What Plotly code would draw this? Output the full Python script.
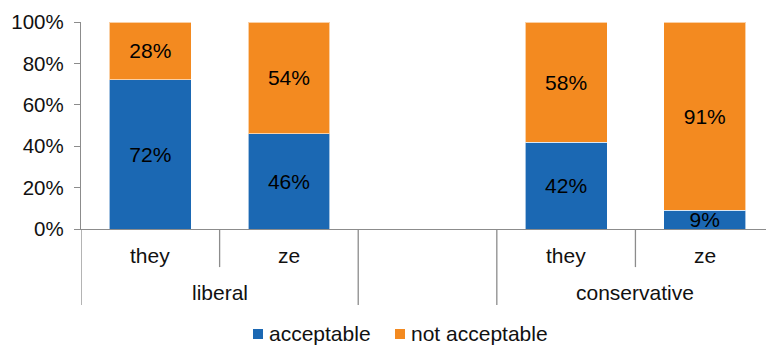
import plotly.graph_objects as go

# Pronoun acceptability by political leaning (100% stacked)
pronouns = ["they", "ze", "", "they", "ze"]
groups = ["liberal", "conservative"]
acceptable = [72, 46, None, 42, 9]
not_acceptable = [28, 54, None, 58, 91]
series_names = ["acceptable", "not acceptable"]

BLUE = "#1B68B3"
ORANGE = "#F38A20"
AXIS = "#8C8C8C"
FONT = "Liberation Sans, Arial, sans-serif"
FS = 21
TICK_FS = 20.5

L, T, W, H = 81, 22, 766, 345
PW, PH = W - L, 207


def px_x(p):
    return (p - L) / PW


def px_y(p):
    return (T + PH - p) / PH


x = list(range(len(pronouns)))

fig = go.Figure()
for name, vals, color in [(series_names[0], acceptable, BLUE),
                          (series_names[1], not_acceptable, ORANGE)]:
    fig.add_trace(go.Bar(
        x=x, y=vals, name=name, width=0.59, showlegend=False,
        marker=dict(color=color, line=dict(color="rgba(255,255,255,0.6)", width=1)),
        texttemplate="%{y}%", textposition="inside", insidetextanchor="middle",
        textfont=dict(color="black", size=FS, family=FONT),
        constraintext="none",
    ))

shapes = []
# y-axis line continued down through both label rows
shapes.append(dict(type="line", xref="x", yref="paper", x0=-0.5, x1=-0.5,
                   y0=0, y1=-0.367, line=dict(color=AXIS, width=1.3)))
# dividers between pronoun labels and between groups
for xv, depth in [(0.5, -0.184), (1.5, -0.367), (2.5, -0.367), (3.5, -0.184)]:
    shapes.append(dict(type="line", xref="x", yref="paper", x0=xv, x1=xv,
                       y0=0, y1=depth, line=dict(color=AXIS, width=1.3)))

annotations = []
for xi, p in zip(x, pronouns):
    if p:
        annotations.append(dict(x=xi, y=-0.126, xref="x", yref="paper", text=p,
                                showarrow=False, yanchor="middle",
                                font=dict(size=FS, color="#111", family=FONT)))
for xc, g in zip([0.5, 3.5], groups):
    annotations.append(dict(x=xc, y=-0.309, xref="x", yref="paper", text=g,
                            showarrow=False, yanchor="middle",
                            font=dict(size=FS, color="#111", family=FONT)))

# legend row: colour swatch followed by series name
for name, color, sx, tx in [(series_names[0], BLUE, 253, 267),
                            (series_names[1], ORANGE, 395, 409)]:
    shapes.append(dict(type="rect", xref="paper", yref="paper",
                       x0=px_x(sx), x1=px_x(sx + 10), y0=px_y(339), y1=px_y(329),
                       fillcolor=color, line=dict(width=0)))
    annotations.append(dict(x=px_x(tx), y=px_y(333.5), xref="paper", yref="paper",
                            text=name, showarrow=False, xanchor="left",
                            yanchor="middle",
                            font=dict(size=FS, color="#111", family=FONT)))

fig.update_layout(
    barmode="stack",
    width=W, height=H,
    margin=dict(l=L, r=0, t=T, b=H - T - PH),
    paper_bgcolor="white", plot_bgcolor="white",
    font=dict(family=FONT, size=FS, color="#111"),
    uniformtext=dict(minsize=FS, mode="show"),
    showlegend=False,
    shapes=shapes, annotations=annotations,
    xaxis=dict(range=[-0.5, 4.442], showticklabels=False, showgrid=False,
               zeroline=False, showline=True, linecolor=AXIS, linewidth=1.3,
               ticks=""),
    yaxis=dict(range=[0, 100], tickvals=[0, 20, 40, 60, 80, 100],
               ticktext=["0%", "20%", "40%", "60%", "80%", "100%"],
               showgrid=False, zeroline=False, showline=True, linecolor=AXIS,
               linewidth=1.3, ticks="outside", ticklen=6, tickcolor=AXIS,
               ticklabelstandoff=6,
               tickfont=dict(size=TICK_FS, family=FONT, color="#111")),
)

fig.write_html("out.html")
